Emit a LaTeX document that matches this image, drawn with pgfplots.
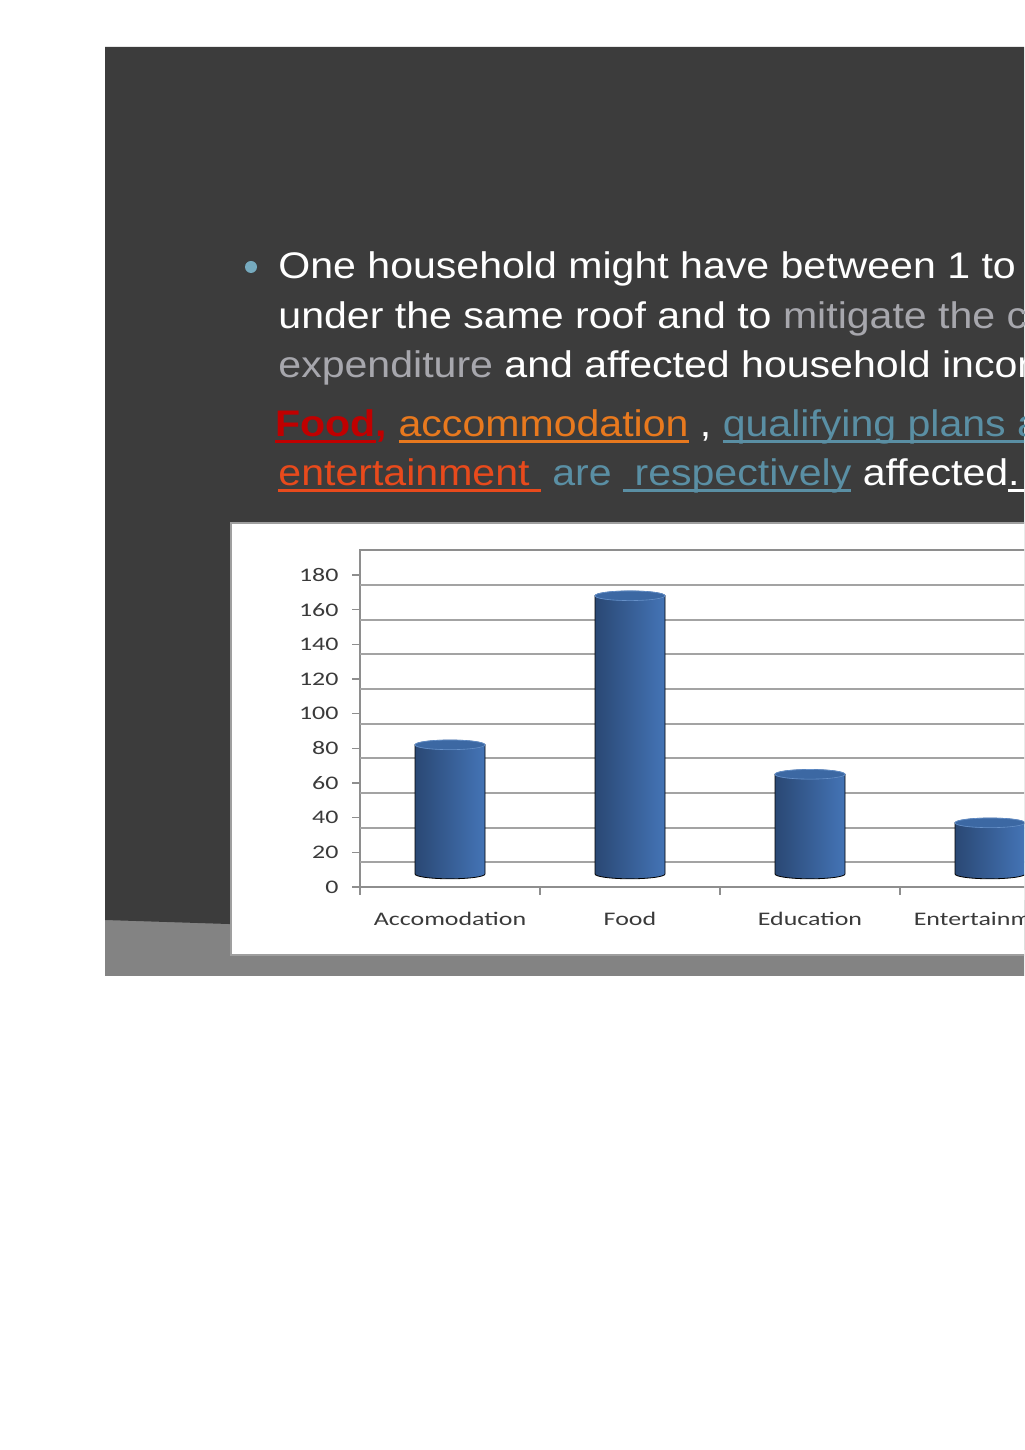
\documentclass[border=0pt]{standalone}
\usepackage{fontspec}
\setmainfont{Liberation Sans}
\newfontfamily\chartfont{Carlito}
\usepackage{pgfplots}
\pgfplotsset{compat=1.18}
\usepackage{pgfplotstable}

\definecolor{slide}{HTML}{3C3C3C}
\definecolor{strip}{HTML}{838383}
\definecolor{dimtxt}{HTML}{A7A7AD}
\definecolor{foodred}{HTML}{C00000}
\definecolor{accorange}{HTML}{E8791E}
\definecolor{enterred}{HTML}{E84A1C}
\definecolor{tealtxt}{HTML}{5A8FA4}
\definecolor{bullet}{HTML}{76AABE}
\definecolor{gridgrey}{HTML}{A3A3A3}
\definecolor{axisgrey}{HTML}{8E8E8E}
\definecolor{ticktxt}{HTML}{3A3A3A}
\definecolor{cylL}{HTML}{2A4874}
\definecolor{cylM}{HTML}{5B90D4}
\definecolor{cylR}{HTML}{4474B6}
\definecolor{cylT}{HTML}{3C68A3}
\definecolor{cylRim}{HTML}{6690C8}

% underline with a rule under the text
\newcommand\ul[1]{\setbox0\hbox{#1}\rlap{\rule[-3.2pt]{\wd0}{1.5pt}}\box0}

\pgfdeclareplotmark{nothing}{}

% bar tops as read off the front scale
\pgfplotstableread{
x name top
0 Accomodation 82
1 Food 168
2 Education 65
3 Entertainment 37
}\cyltable

\begin{document}
\begin{tikzpicture}
\path[use as bounding box] (0,0) rectangle (512pt,725pt);
\clip (0,0) rectangle (512pt,725pt);
\fill[white] (0,0) rectangle (512pt,725pt);

% slide, in pixel coordinates (y down)
\begin{scope}[x=0.5pt, y=-0.5pt, shift={(0pt,725pt)}]
  \fill[strip] (105,900) rectangle (1030,976);
  \fill[slide] (105,47) -- (1030,47) -- (1030,950) -- (105,920) -- cycle;
  \fill[bullet] (251,267) circle[radius=6];
  \begin{scope}[every node/.style={anchor=base west, inner sep=0pt, xscale=1.11,
      font=\fontsize{18.5}{22}\selectfont, text=white}]
    \node at (278,279) {One household might have between 1 to};
    \node at (278,329) {under the same roof and to {\color{dimtxt}mitigate the cost}};
    \node at (278,378) {{\color{dimtxt}expenditure} and affected household income};
    \node at (275,437) {{\color{foodred}\bfseries\ul{Food},} {\color{accorange}\ul{accommodation}} , {\color{tealtxt}\ul{qualifying plans and}}};
    \node at (278,486) {{\color{enterred}\ul{entertainment }} {\color{tealtxt}are \ul{ respectively}} affected\ul{.\ \ \ }};
  \end{scope}
  \filldraw[fill=white, draw=gray!75, line width=0.8pt] (231,523) rectangle (1040,955);
\end{scope}

\begin{axis}[
    at={(180pt,281.5pt)}, anchor=south west,
    x=90pt, y=0.8667pt,
    xmin=-0.5, xmax=3.5, ymin=0, ymax=194.5,
    axis line style={draw=axisgrey, line width=0.8pt},
    tick pos=left, tick align=outside,
    major tick length=4pt,
    tick style={draw=axisgrey, line width=0.8pt},
    ytick={0,20,...,180},
    xtick={-0.5,0.5,1.5,2.5,3.5},
    xticklabels={},
    extra x ticks={0,1,2,3},
    extra x tick labels={Accomodation,Food,Education,Entertainment},
    extra x tick style={major tick length=0pt, tick style={draw=none}},
    extra y ticks={14.2,34.2,54.2,74.2,94.2,114.2,134.2,154.2,174.2},
    extra y tick labels={},
    extra y tick style={grid=major, major tick length=0pt, tick style={draw=none}},
    major grid style={draw=gridgrey, line width=1.1pt},
    /pgf/number format/assume math mode=true,
    ticklabel style={font=\chartfont\fontsize{9.6}{11}\selectfont, text=ticktxt, xscale=1.35},
    yticklabel style={xshift=-1.5pt},
    xticklabel style={yshift=-9pt},
    clip=false,
  ]
  \addplot[scatter, only marks, mark=nothing,
    visualization depends on={\thisrow{top} \as \topv},
    scatter/@pre marker code/.code={%
      \pgfmathsetlengthmacro\hh{(\topv-7.5)*0.8667pt}%
      \shade[left color=cylL, middle color=cylM, right color=cylR]
        (-17.5pt,0pt) -- (-17.5pt,-\hh)
        arc[start angle=180, end angle=360, x radius=17.5pt, y radius=2.4pt]
        -- (17.5pt,0pt) -- cycle;
      \fill[cylT] (0pt,0pt) ellipse[x radius=17.5pt, y radius=2.4pt];
      \draw[cylRim, line width=0.3pt] (0pt,0pt) ellipse[x radius=17.5pt, y radius=2.4pt];
    },
    scatter/@post marker code/.code={},
  ] table[x=x, y=top] {\cyltable};
\end{axis}
\end{tikzpicture}
\end{document}
